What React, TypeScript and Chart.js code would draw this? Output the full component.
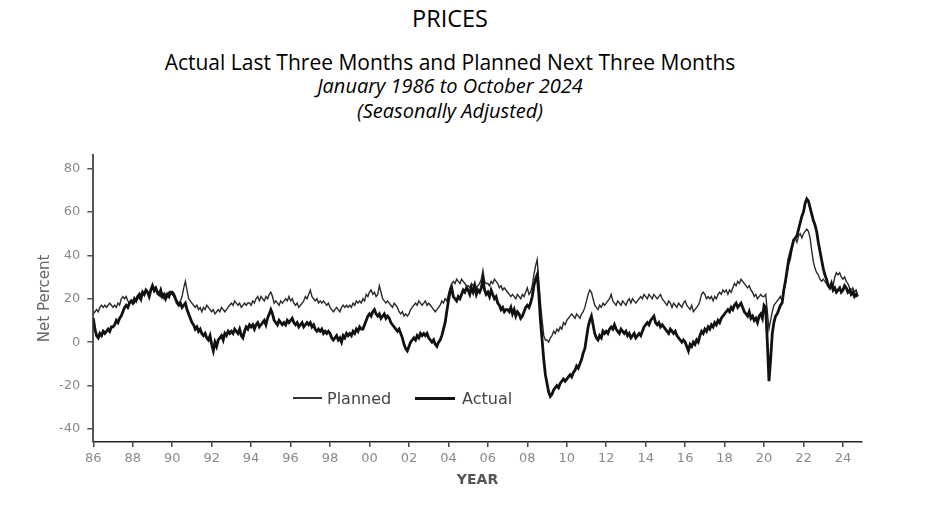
import React, { useEffect, useRef } from "react";
import { Chart, registerables } from "chart.js";

Chart.register(...registerables);

// Monthly values, January 1986 to October 2024 (net percent, seasonally adjusted)
const startYear = 1986;

const planned: number[] = [
  13, 14, 15, 14, 16, 17, 16, 17, 16, 17, 18, 17, // 1986
  16, 17, 16, 18, 17, 20, 21, 20, 21, 19, 18, 19, // 1987
  19, 18, 20, 21, 20, 22, 23, 22, 24, 23, 22, 24, // 1988
  25, 23, 24, 22, 23, 21, 22, 20, 22, 21, 23, 22, // 1989
  22, 21, 20, 19, 18, 19, 21, 25, 28, 24, 20, 19, // 1990
  18, 17, 16, 17, 15, 16, 14, 16, 15, 17, 16, 15, // 1991
  14, 15, 13, 14, 15, 14, 16, 15, 14, 15, 16, 17, // 1992
  18, 17, 19, 18, 17, 18, 16, 17, 18, 17, 18, 18, // 1993
  17, 19, 18, 20, 21, 19, 21, 20, 19, 21, 20, 22, // 1994
  23, 21, 18, 19, 18, 17, 19, 18, 19, 20, 19, 21, // 1995
  19, 20, 18, 17, 18, 16, 17, 18, 19, 21, 20, 22, // 1996
  24, 21, 20, 19, 20, 18, 19, 18, 19, 18, 17, 18, // 1997
  16, 15, 14, 15, 16, 15, 14, 16, 17, 16, 17, 16, // 1998
  17, 16, 18, 17, 19, 18, 19, 18, 20, 19, 22, 21, // 1999
  23, 24, 22, 23, 21, 22, 26, 23, 20, 19, 18, 19, // 2000
  18, 17, 16, 18, 17, 16, 14, 13, 14, 12, 13, 12, // 2001
  13, 15, 16, 17, 18, 17, 19, 18, 17, 18, 19, 17, // 2002
  18, 17, 16, 15, 14, 15, 16, 17, 19, 18, 20, 19, // 2003
  22, 25, 27, 28, 27, 29, 28, 27, 29, 28, 27, 26, // 2004
  26, 25, 27, 26, 27, 25, 26, 27, 29, 33, 28, 27, // 2005
  27, 26, 28, 27, 29, 28, 27, 25, 26, 24, 25, 24, // 2006
  23, 22, 21, 22, 21, 20, 22, 21, 20, 22, 21, 23, // 2007
  25, 22, 23, 26, 31, 35, 38, 28, 18, 10, 3, 1, // 2008
  1, 0, 2, 3, 5, 4, 6, 5, 7, 6, 9, 8, // 2009
  10, 11, 12, 13, 12, 11, 13, 12, 11, 13, 14, 16, // 2010
  19, 22, 24, 23, 20, 17, 16, 15, 17, 16, 18, 17, // 2011
  18, 19, 20, 22, 19, 18, 17, 19, 18, 17, 19, 18, // 2012
  17, 19, 20, 18, 20, 19, 18, 19, 20, 21, 20, 22, // 2013
  21, 20, 22, 21, 20, 22, 21, 20, 21, 22, 20, 19, // 2014
  18, 17, 19, 18, 16, 18, 17, 16, 18, 17, 16, 18, // 2015
  19, 17, 16, 15, 17, 14, 15, 16, 17, 19, 22, 23, // 2016
  22, 20, 21, 20, 21, 19, 21, 20, 22, 23, 22, 24, // 2017
  23, 24, 22, 24, 23, 25, 27, 26, 28, 27, 29, 28, // 2018
  27, 26, 25, 26, 24, 23, 21, 22, 20, 21, 22, 21, // 2019
  21, 22, 14, 6, 10, 14, 17, 18, 19, 20, 21, 19, // 2020
  24, 27, 32, 36, 38, 43, 47, 48, 46, 49, 50, 48, // 2021
  50, 51, 52, 51, 48, 42, 37, 34, 32, 31, 29, 28, // 2022
  29, 28, 27, 26, 25, 27, 26, 30, 32, 31, 32, 30, // 2023
  29, 30, 28, 27, 25, 24, 25, 23, 24, 22, // 2024
];

const actual: number[] = [
  11, 6, 3, 2, 4, 3, 5, 4, 5, 6, 5, 7, // 1986
  7, 8, 10, 9, 11, 12, 14, 16, 17, 16, 18, 19, // 1987
  18, 20, 19, 21, 22, 20, 23, 22, 24, 23, 21, 24, // 1988
  26, 24, 25, 23, 22, 24, 21, 22, 20, 22, 21, 23, // 1989
  23, 22, 20, 18, 17, 18, 16, 17, 18, 15, 13, 11, // 1990
  9, 8, 6, 7, 5, 6, 4, 3, 4, 2, 1, 3, // 1991
  -1, -4, 0, -2, 1, 2, 3, 1, 4, 3, 5, 4, // 1992
  5, 4, 6, 5, 4, 6, 3, 2, 5, 7, 6, 8, // 1993
  7, 8, 6, 8, 9, 7, 8, 9, 10, 8, 11, 13, // 1994
  15, 13, 10, 9, 8, 10, 9, 8, 9, 8, 10, 9, // 1995
  10, 11, 9, 8, 9, 7, 8, 9, 7, 8, 9, 8, // 1996
  9, 7, 8, 6, 5, 6, 5, 6, 4, 5, 4, 5, // 1997
  4, 2, 1, 2, 3, 1, 2, 0, 3, 2, 4, 3, // 1998
  4, 3, 5, 4, 6, 5, 7, 6, 6, 8, 10, 12, // 1999
  13, 12, 14, 15, 13, 12, 13, 11, 12, 13, 11, 12, // 2000
  11, 9, 8, 7, 6, 5, 6, 4, 2, -1, -3, -4, // 2001
  -2, 0, 1, 2, 1, 3, 2, 4, 3, 4, 3, 4, // 2002
  2, 1, 0, 1, -1, -2, 0, 1, 3, 6, 9, 14, // 2003
  19, 23, 25, 21, 20, 19, 21, 20, 22, 24, 23, 25, // 2004
  24, 22, 25, 23, 26, 22, 24, 23, 25, 29, 24, 22, // 2005
  23, 21, 24, 22, 20, 21, 18, 17, 15, 16, 14, 15, // 2006
  15, 14, 16, 13, 15, 12, 14, 13, 11, 12, 14, 16, // 2007
  17, 16, 18, 21, 26, 29, 31, 22, 10, 1, -8, -15, // 2008
  -19, -23, -25, -24, -22, -21, -20, -21, -19, -18, -17, -18, // 2009
  -17, -16, -15, -16, -14, -13, -11, -12, -10, -8, -5, -3, // 2010
  2, 7, 10, 12, 8, 4, 2, 1, 3, 2, 5, 4, // 2011
  5, 4, 6, 7, 6, 8, 6, 5, 4, 6, 5, 4, // 2012
  5, 3, 4, 2, 3, 4, 2, 3, 4, 3, 5, 7, // 2013
  8, 9, 8, 10, 11, 12, 9, 8, 9, 7, 8, 7, // 2014
  6, 5, 4, 6, 5, 4, 5, 3, 2, 1, 0, 1, // 2015
  0, -2, -4, -1, -2, 0, -1, 1, 0, 3, 5, 4, // 2016
  6, 5, 7, 6, 8, 7, 9, 8, 10, 9, 11, 12, // 2017
  13, 14, 15, 14, 16, 15, 17, 18, 16, 17, 18, 16, // 2018
  14, 13, 12, 14, 11, 12, 10, 11, 9, 12, 13, 11, // 2019
  17, 16, 0, -18, -8, 4, 9, 12, 13, 15, 17, 18, // 2020
  24, 28, 33, 38, 41, 44, 47, 48, 49, 52, 55, 58, // 2021
  60, 64, 66, 65, 62, 59, 56, 54, 51, 46, 42, 38, // 2022
  34, 31, 29, 26, 25, 27, 24, 25, 23, 24, 25, 23, // 2023
  24, 26, 25, 23, 24, 22, 23, 21, 22, 21, // 2024
];

const xTicks = [1986, 1988, 1990, 1992, 1994, 1996, 1998, 2000, 2002, 2004, 2006, 2008, 2010, 2012, 2014, 2016, 2018, 2020, 2022, 2024];
const xTickLabels = ["86", "88", "90", "92", "94", "96", "98", "00", "02", "04", "06", "08", "10", "12", "14", "16", "18", "20", "22", "24"];
const yTicks = [-40, -20, 0, 20, 40, 60, 80];

const seriesNames = ["Planned", "Actual"];

const toPoints = (vals: number[]) => vals.map((v, i) => ({ x: startYear + i / 12, y: v }));

const SANS = "'DejaVu Sans', 'Liberation Sans', sans-serif";
const TITLE = "'Open Sans', 'Noto Sans', sans-serif";

export default function App() {
  const canvasRef = useRef<HTMLCanvasElement | null>(null);

  useEffect(() => {
    if (!canvasRef.current) return;
    const chart = new Chart(canvasRef.current, {
      type: "line",
      data: {
        datasets: [
          {
            label: seriesNames[1],
            data: toPoints(actual),
            borderColor: "#111111",
            borderWidth: 2.8,
            pointRadius: 0,
            tension: 0,
            fill: false,
          },
          {
            label: seriesNames[0],
            data: toPoints(planned),
            borderColor: "#2a2a2a",
            borderWidth: 1.4,
            pointRadius: 0,
            tension: 0,
            fill: false,
          },
        ],
      },
      options: {
        animation: false,
        responsive: true,
        maintainAspectRatio: false,
        layout: { padding: { top: 10, right: 16.3, left: 0, bottom: 0 } },
        plugins: {
          legend: { display: false },
          tooltip: { enabled: false },
          title: { display: false },
        },
        scales: {
          x: {
            type: "linear",
            min: 1986,
            max: 2024.95,
            afterFit: (s: any) => {
              s.height = 53;
            },
            afterBuildTicks: (s: any) => {
              s.ticks = xTicks.map((v) => ({ value: v }));
            },
            grid: {
              drawOnChartArea: false,
              drawTicks: true,
              tickLength: 5,
              color: "#444",
              lineWidth: 1.5,
            },
            border: { display: true, color: "#222", width: 1.6 },
            ticks: {
              autoSkip: false,
              maxRotation: 0,
              padding: 4,
              color: "#8a8a8a",
              font: { family: SANS, size: 13 },
              callback: (v: any) => {
                const i = xTicks.indexOf(Number(v));
                return i >= 0 ? xTickLabels[i] : "";
              },
            },
            title: {
              display: true,
              text: "YEAR",
              color: "#555",
              font: { family: SANS, size: 14, weight: "bold" },
              padding: { top: 0, bottom: 6 },
            },
          },
          y: {
            type: "linear",
            min: -46,
            max: 86.3,
            afterFit: (s: any) => {
              s.width = 65.3;
            },
            afterBuildTicks: (s: any) => {
              s.ticks = yTicks.map((v) => ({ value: v }));
            },
            grid: {
              drawOnChartArea: false,
              drawTicks: true,
              tickLength: 6,
              color: "#555",
              lineWidth: 1.5,
            },
            border: { display: true, color: "#555", width: 2 },
            ticks: {
              padding: 7,
              color: "#8a8a8a",
              font: { family: SANS, size: 13 },
            },
            title: {
              display: true,
              text: "Net Percent",
              color: "#666",
              font: { family: SANS, size: 15 },
              padding: { top: 8, bottom: 0 },
            },
          },
        },
      },
    });
    return () => chart.destroy();
  }, []);

  const centerText = (top: number, size: number, italic: boolean, text: string) => (
    <div
      style={{
        position: "absolute",
        left: 0,
        width: 884,
        top,
        lineHeight: "24px",
        fontSize: size,
        fontFamily: TITLE,
        fontStyle: italic ? "italic" : "normal",
        textAlign: "center",
        color: "#000",
        whiteSpace: "nowrap",
      }}
    >
      {text}
    </div>
  );

  return (
    <div style={{ position: "relative", width: 920, height: 490 }}>
      {centerText(-1.8, 23.5, false, "PRICES")}
      {centerText(42.2, 21, false, "Actual Last Three Months and Planned Next Three Months")}
      {centerText(66.2, 20, true, "January 1986 to October 2024")}
      {centerText(91.2, 20, true, "(Seasonally Adjusted)")}

      <div style={{ position: "absolute", left: 20, top: 132, width: 850, height: 355 }}>
        <canvas ref={canvasRef} />
      </div>

      {/* legend */}
      <div style={{ position: "absolute", left: 285, top: 389.3, width: 29, height: 1.4, background: "#333" }} />
      <div
        style={{
          position: "absolute",
          left: 319,
          top: 380.5,
          lineHeight: "19px",
          fontSize: 16,
          fontFamily: SANS,
          color: "#444",
          whiteSpace: "nowrap",
        }}
      >
        {seriesNames[0]}
      </div>
      <div style={{ position: "absolute", left: 407, top: 388.5, width: 40, height: 3, background: "#111" }} />
      <div
        style={{
          position: "absolute",
          left: 454,
          top: 380.5,
          lineHeight: "19px",
          fontSize: 16,
          fontFamily: SANS,
          color: "#444",
          whiteSpace: "nowrap",
        }}
      >
        {seriesNames[1]}
      </div>

      <div style={{ position: "absolute", left: 20, top: 492, width: 845, height: 1, background: "#111" }} />
    </div>
  );
}
